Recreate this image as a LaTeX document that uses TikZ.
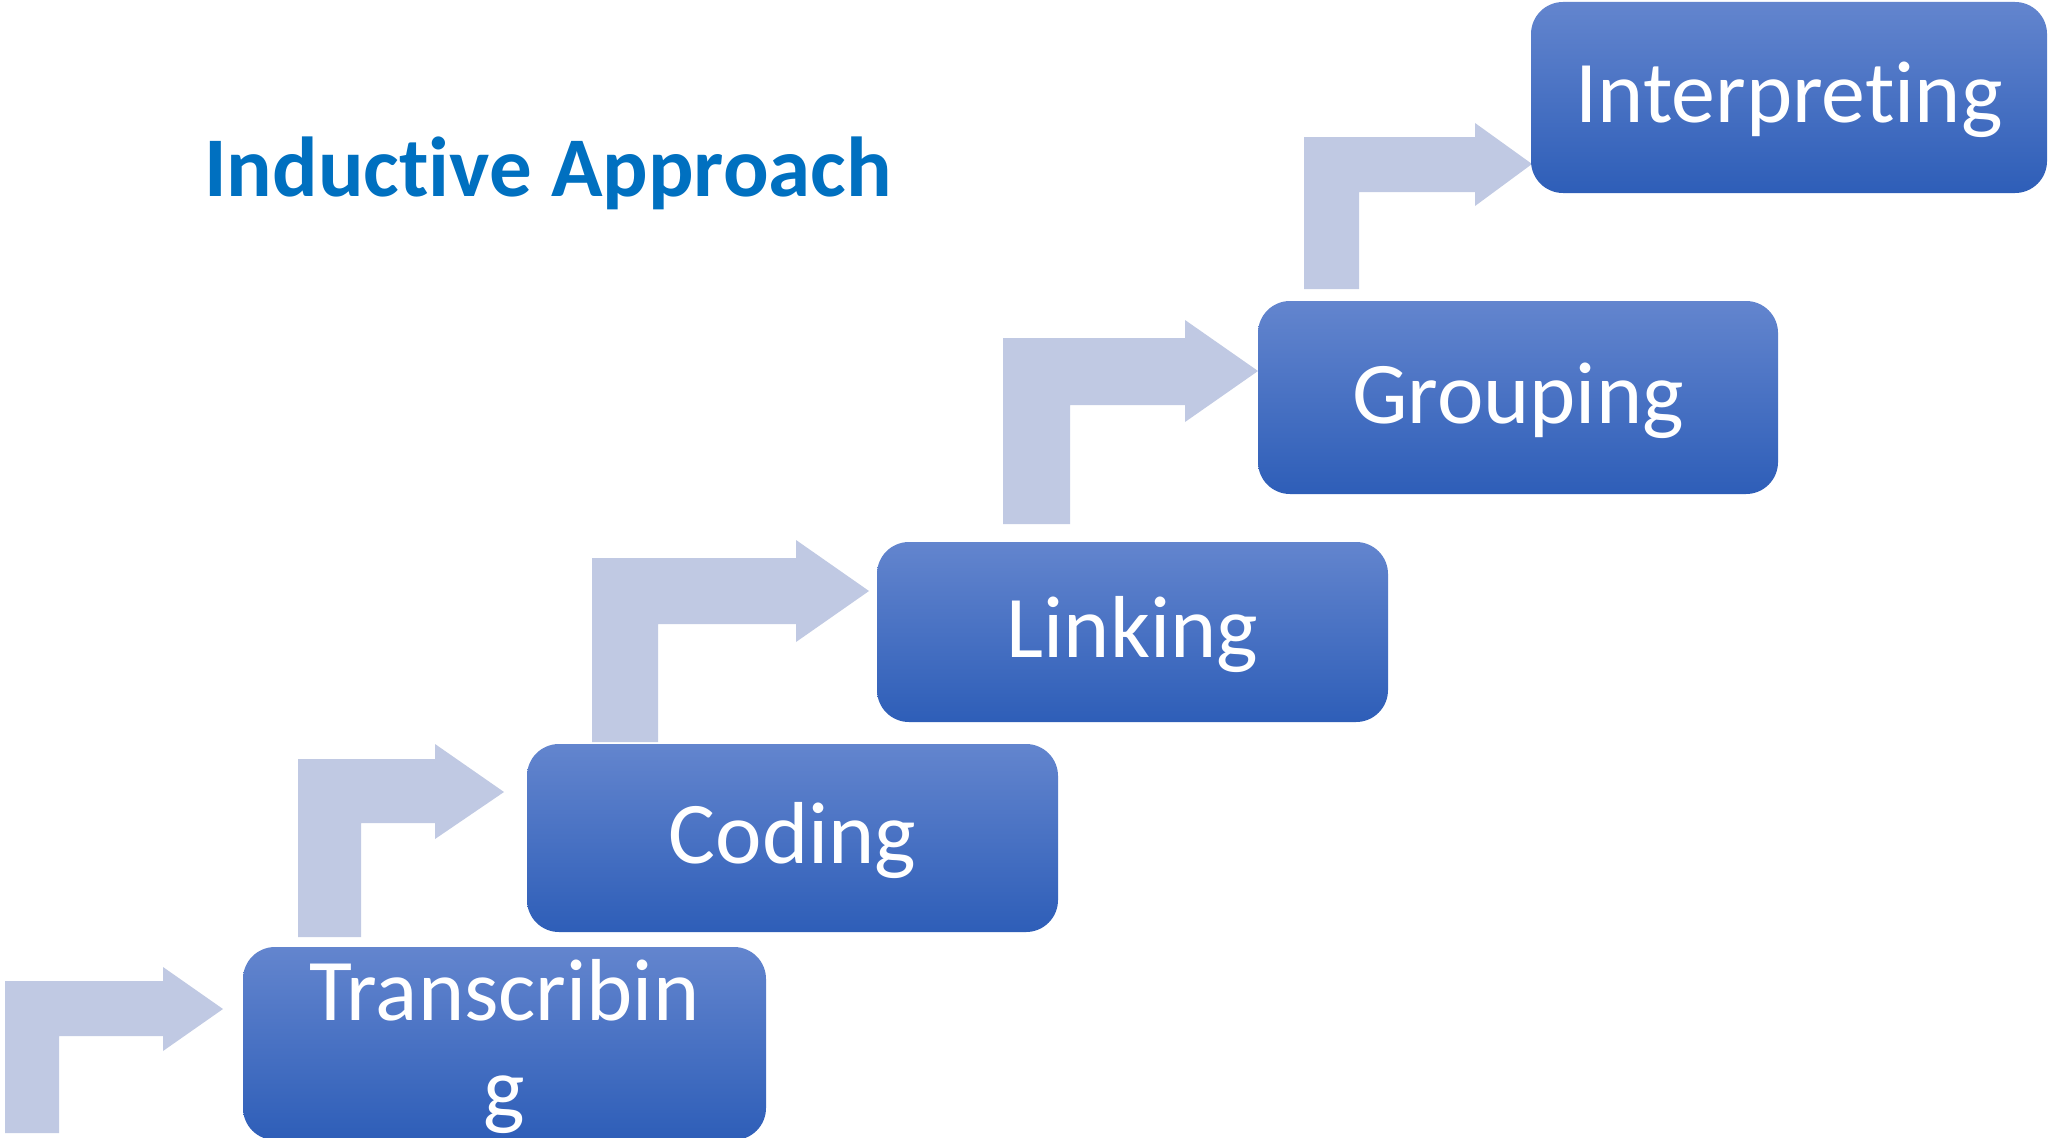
\documentclass[tikz,border=0pt]{standalone}
\usepackage{fontspec}
\setmainfont{Carlito}[Ligatures=NoCommon]
\definecolor{arrowfill}{RGB}{192,201,227}
\definecolor{boxtop}{RGB}{99,133,206}
\definecolor{boxbot}{RGB}{46,94,184}
\definecolor{titleblue}{RGB}{0,112,192}
\begin{document}
\begin{tikzpicture}[x=1pt,y=-1pt,
  stepbox/.style={rectangle, rounded corners=32pt, top color=boxtop, bottom color=boxbot,
    draw=none, inner sep=0pt, text=white, font=\fontsize{88}{98}\selectfont,
    text height=51pt, text depth=0pt},
  steptext/.style={text=white, font=\fontsize{88}{98}\selectfont, inner sep=0pt, align=center},
  bentarrow/.style={fill=arrowfill, draw=none}]
\useasboundingbox (0,0) rectangle (2049,1137);
\fill[white] (0,0) rectangle (2049,1137);
% bent arrows
\foreach \Xa/\Xb/\Yb/\Ta/\Tb/\Hx/\Hu/\Hd/\Px/\Py in {
  5/59/1133/981/1036/163/967/1051/223/1009,
  298/361/937/759/823/435/744/839/504/792,
  592/658/742/558/624/796/540/642/869/591,
  1003/1070/524/338/405/1185/320/422/1258/371,
  1304/1359/289/137/192/1475/123/206/1532/164}{
  \fill[bentarrow] (\Xa,\Yb) -- (\Xa,\Ta) -- (\Hx,\Ta) -- (\Hx,\Hu) -- (\Px,\Py)
    -- (\Hx,\Hd) -- (\Hx,\Tb) -- (\Xb,\Tb) -- (\Xb,\Yb) -- cycle;
}
% boxes
\node[stepbox, minimum width=523pt, minimum height=193pt] (trans) at (504.5,1043.5) {};
\node[steptext, anchor=base] (transtext) at (504.5,1118) {Transcribin\\g};
\node[stepbox, minimum width=531pt, minimum height=188pt] (coding) at (792.5,838) {Coding};
\node[stepbox, minimum width=511pt, minimum height=180pt] (linking) at (1132.5,632) {Linking};
\node[stepbox, minimum width=520pt, minimum height=193pt] (grouping) at (1518,397.5) {Grouping};
\node[stepbox, minimum width=516pt, minimum height=191pt] (interp) at (1789,97.5) {Interpreting};
% title
\node[anchor=base west, text=titleblue, font=\bfseries\fontsize{85}{100}\selectfont, inner sep=0pt]
  (title) at (204,196) {Inductive Approach};
\end{tikzpicture}
\end{document}
